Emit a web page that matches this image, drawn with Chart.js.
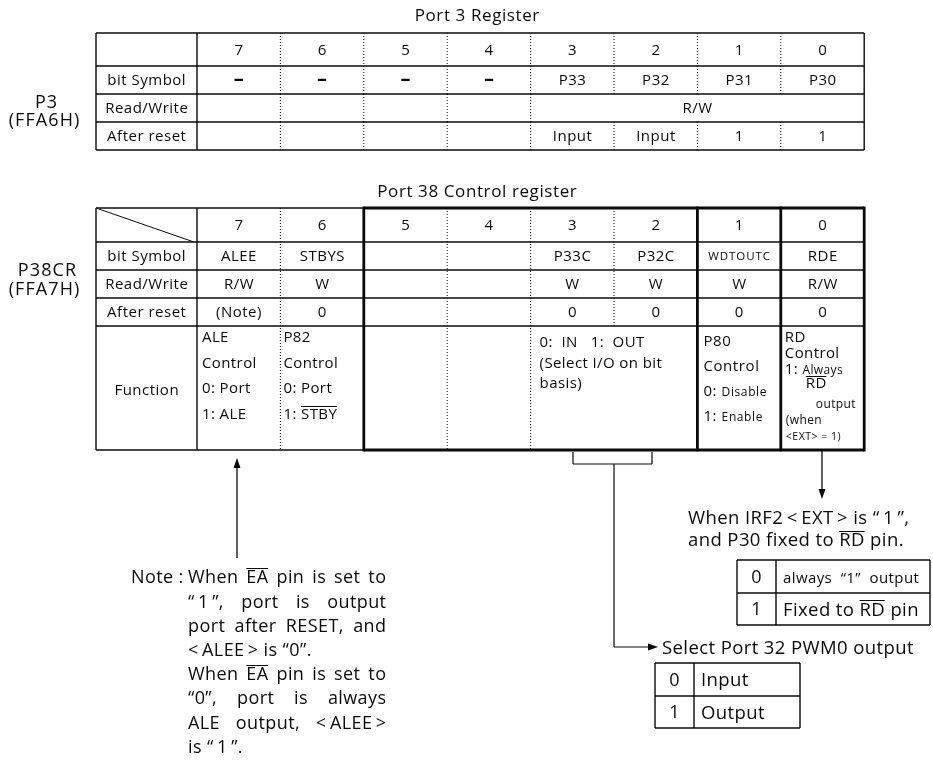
<!DOCTYPE html>
<html>
<head>
<meta charset="utf-8">
<script src="https://cdn.jsdelivr.net/npm/chart.js@4/dist/chart.umd.min.js"></script>
<style>
  html, body { margin: 0; padding: 0; background: #fff; }
  #wrap { width: 933px; height: 761px; }
</style>
</head>
<body>
<div id="wrap"><canvas id="regChart" width="933" height="761"></canvas></div>
<script>
// ===== REGISTER DATA =====
// ^..^ = overlined text, _.._ = small text
const bitLabels = ['7', '6', '5', '4', '3', '2', '1', '0'];
const rowLabels = ['bit Symbol', 'Read/Write', 'After reset'];

const p3Title = 'Port 3 Register';
const p3Name = ['P3', '(FFA6H)'];
const p3Symbols = ['–', '–', '–', '–', 'P33', 'P32', 'P31', 'P30'];
const p3ReadWrite = ['', '', '', '', 'R/W', '', '', ''];   // R/W spans bits 3..0
const p3Reset = ['', '', '', '', 'Input', 'Input', '1', '1'];

const p38Title = 'Port 38 Control register';
const p38Name = ['P38CR', '(FFA7H)'];
const p38Symbols = ['ALEE', 'STBYS', '', '', 'P33C', 'P32C', 'WDTOUTC', 'RDE'];
const p38ReadWrite = ['R/W', 'W', '', '', 'W', 'W', 'W', 'R/W'];
const p38Reset = ['(Note)', '0', '', '', '0', '0', '0', '0'];

const fnBit7 = ['ALE', 'Control', '0: Port', '1: ALE'];
const fnBit6 = ['P82', 'Control', '0: Port', '1: ^STBY^'];
const fnBit32 = ['0:  IN   1:  OUT', '(Select I/O on bit', 'basis)'];
const fnBit1 = ['P80', 'Control', '0: _Disable_', '1: _Enable_'];
const fnBit0 = ['RD', 'Control', '1: _Always_', '^RD^', '_output_', '_(when_', '_<EXT> = 1)_'];

const noteHead = 'Note :';
const noteLines = [
  'When ^EA^ pin is set to',
  '“\u20091\u2009”, port is output',
  'port after RESET, and',
  '<\u2009ALEE\u2009> is “0”.',
  'When ^EA^ pin is set to',
  '“0”, port is always',
  'ALE output, <\u2009ALEE\u2009>',
  'is “\u20091\u2009”.'
];
const noteJustify = [true, true, true, false, true, true, true, false];

const rdNote = ['When IRF2\u2009<\u2009EXT\u2009> is “\u20091\u2009”,', 'and P30 fixed to ^RD^ pin.'];
const rdTable = [['0', '_always  “1”  output_'], ['1', 'Fixed to ^RD^ pin']];
const pwmNote = 'Select Port 32 PWM0 output';
const pwmTable = [['0', 'Input'], ['1', 'Output']];

// ===== LAYOUT (diagram units, mapped through the chart scales) =====
const FONT = '"Open Sans", "Noto Sans", sans-serif';
const INK = '#0a0a0a';
const tableLeft = 96, labelRight = 197, colW = 83.4;
const p3Rows = [33, 66, 94, 122, 150];
const p38Rows = [208, 242, 270, 298, 326, 450];
const colEdge = i => labelRight + i * colW;

function parseRich(str) {
  const out = [];
  str.split(/(\^[^^]*\^|_[^_]*_)/).forEach(p => {
    if (!p) return;
    if (p[0] === '^') out.push({ t: p.slice(1, -1), over: true });
    else if (p[0] === '_') out.push({ t: p.slice(1, -1), small: true });
    else out.push({ t: p });
  });
  return out;
}

function fontOf(o, small) {
  return `${o.weight || 400} ${small ? o.small : o.size}px ${FONT}`;
}

function richWidth(ctx, str, o) {
  let w = 0;
  parseRich(str).forEach(s => {
    ctx.font = fontOf(o, s.small);
    for (const ch of s.t) w += ctx.measureText(ch).width + o.ls;
  });
  return w - o.ls;
}

function drawRich(ctx, str, x, y, opt) {
  const o = Object.assign({ size: 14, ls: 1, align: 'left' }, opt);
  if (!o.small) o.small = Math.round(o.size * 0.8);
  const total = richWidth(ctx, str, o);
  let cx = o.align === 'center' ? x - total / 2 : o.align === 'right' ? x - total : x;
  const base = y + o.size * 0.36;
  ctx.fillStyle = INK;
  ctx.textBaseline = 'alphabetic';
  ctx.textAlign = 'left';
  parseRich(str).forEach(s => {
    const sz = s.small ? o.small : o.size;
    ctx.font = fontOf(o, s.small);
    const x0 = cx;
    for (const ch of s.t) {
      ctx.fillText(ch, cx, base);
      cx += ctx.measureText(ch).width + o.ls;
    }
    if (s.over) {
      ctx.strokeStyle = INK; ctx.lineWidth = 1; ctx.setLineDash([]);
      const oy = Math.round(base - sz * 0.84) + 0.5;
      ctx.beginPath(); ctx.moveTo(x0, oy); ctx.lineTo(cx - o.ls, oy); ctx.stroke();
    }
  });
}

function drawJustified(ctx, str, x, y, width, opt) {
  const words = str.split(' ');
  const o = Object.assign({ ls: 1 }, opt);
  const ws = words.map(w => richWidth(ctx, w, o));
  const gap = (width - ws.reduce((a, b) => a + b, 0)) / (words.length - 1);
  let cx = x;
  words.forEach((w, i) => { drawRich(ctx, w, cx, y, o); cx += ws[i] + gap; });
}

const diagramPlugin = {
  id: 'registerDiagram',
  beforeDraw(chart) {
    const { ctx, width, height } = chart;
    ctx.save(); ctx.fillStyle = '#fff'; ctx.fillRect(0, 0, width, height); ctx.restore();
  },
  afterDraw(chart) {
    const { ctx, scales: { x, y } } = chart;
    const X = v => x.getPixelForValue(v);
    const Y = v => y.getPixelForValue(v);
    ctx.save();

    const line = (x1, y1, x2, y2, w, dotted) => {
      ctx.strokeStyle = INK; ctx.lineWidth = w;
      ctx.setLineDash(dotted ? [1, 2] : []);
      ctx.beginPath(); ctx.moveTo(X(x1), Y(y1)); ctx.lineTo(X(x2), Y(y2)); ctx.stroke();
      ctx.setLineDash([]);
    };
    const arrowHead = (tx, ty, dir) => {
      const L = 10, H = 3.5;
      ctx.fillStyle = INK; ctx.beginPath();
      if (dir === 'up') { ctx.moveTo(X(tx), Y(ty)); ctx.lineTo(X(tx - H), Y(ty + L)); ctx.lineTo(X(tx + H), Y(ty + L)); }
      if (dir === 'down') { ctx.moveTo(X(tx), Y(ty)); ctx.lineTo(X(tx - H), Y(ty - L)); ctx.lineTo(X(tx + H), Y(ty - L)); }
      if (dir === 'right') { ctx.moveTo(X(tx), Y(ty)); ctx.lineTo(X(tx - L), Y(ty - H)); ctx.lineTo(X(tx - L), Y(ty + H)); }
      ctx.closePath(); ctx.fill();
    };
    const T = (s, px, py, o) => drawRich(ctx, s, X(px), Y(py), o);
    const mid = (a, b) => (a + b) / 2;
    const cellX = i => mid(colEdge(i), colEdge(i + 1));
    const cell = { size: 15, ls: 0.5, align: 'center' };
    const dash = { size: 20, ls: 0, align: 'center', weight: 700 };

    // ===== PORT 3 REGISTER =====
    T(p3Title, 477, 15, { size: 17, ls: 0.6, align: 'center' });
    T(p3Name[0], 46, 102, { size: 18, ls: 1.1, align: 'center' });
    T(p3Name[1], 44, 120, { size: 18, ls: 1.1, align: 'center' });

    const right = colEdge(8);
    p3Rows.forEach(r => line(tableLeft, r, right, r, 1.4));
    line(tableLeft, p3Rows[0], tableLeft, p3Rows[4], 1.4);
    line(labelRight, p3Rows[0], labelRight, p3Rows[4], 1.4);
    line(right, p3Rows[0], right, p3Rows[4], 1.4);
    for (let i = 1; i < 8; i++) {
      [0, 1, 2, 3].forEach(r => {
        if (r === 2 && i > 4) return; // merged R/W cell
        line(colEdge(i), p3Rows[r], colEdge(i), p3Rows[r + 1], 1, true);
      });
    }
    [p3Symbols, p3ReadWrite, p3Reset].forEach((arr, r) => {
      const cy = mid(p3Rows[r + 1], p3Rows[r + 2]);
      T(rowLabels[r], mid(tableLeft, labelRight), cy, cell);
      arr.forEach((v, i) => {
        if (!v) return;
        const cx = (r === 1 && i === 4) ? mid(colEdge(4), colEdge(8)) : cellX(i);
        T(v, cx, v === '–' ? cy - 2 : cy, v === '–' ? dash : cell);
      });
    });
    bitLabels.forEach((b, i) => T(b, cellX(i), mid(p3Rows[0], p3Rows[1]), cell));

    // ===== PORT 38 CONTROL REGISTER =====
    T(p38Title, 477, 191, { size: 17, ls: 0.6, align: 'center' });
    T(p38Name[0], 47, 270, { size: 18, ls: 1.1, align: 'center' });
    T(p38Name[1], 44, 289, { size: 18, ls: 1.1, align: 'center' });

    const top = p38Rows[0], bot = p38Rows[5];
    p38Rows.slice(1, 5).forEach(r => line(tableLeft, r, right, r, 1.3));
    line(tableLeft, top, colEdge(2), top, 1.4);
    line(tableLeft, bot, colEdge(2), bot, 1.4);
    line(colEdge(2), top, right, top, 2.8);
    line(colEdge(2), bot, right, bot, 2.8);
    line(tableLeft, top, tableLeft, bot, 1.4);
    line(labelRight, top, labelRight, bot, 1.4);
    [2, 6, 7, 8].forEach(i => line(colEdge(i), top - 1.4, colEdge(i), bot + 1.4, 2.8));
    [1, 3, 4].forEach(i => line(colEdge(i), top, colEdge(i), bot, 1, true));
    line(colEdge(5), top, colEdge(5), p38Rows[4], 1, true);
    line(tableLeft, top, labelRight - 3, p38Rows[1], 1);   // header diagonal

    bitLabels.forEach((b, i) => T(b, cellX(i), mid(p38Rows[0], p38Rows[1]), cell));
    [p38Symbols, p38ReadWrite, p38Reset].forEach((arr, r) => {
      const cy = mid(p38Rows[r + 1], p38Rows[r + 2]);
      T(rowLabels[r], mid(tableLeft, labelRight), cy, cell);
      arr.forEach((v, i) => {
        if (!v) return;
        const o = v === 'WDTOUTC' ? { size: 11.5, ls: 0.9, align: 'center' } : cell;
        T(v, cellX(i), cy, o);
      });
    });
    T('Function', mid(tableLeft, labelRight), 390, cell);

    const fn = { size: 15, ls: 0.4 };
    const fnSmall = { size: 15, ls: 0.6, small: 12 };
    fnBit7.forEach((s, k) => T(s, colEdge(0) + 5, 337 + k * 25.5, fn));
    fnBit6.forEach((s, k) => T(s, colEdge(1) + 3, 337 + k * 25.5, fn));
    fnBit32.forEach((s, k) => T(s, colEdge(4) + 9, 342 + k * 20.5, fn));
    fnBit1.forEach((s, k) => T(s, colEdge(6) + 6, 341 + k * 24.7, fnSmall));
    const rdY = [337, 353, 368.5, 383, 403, 419, 435];
    const rdDx = [4, 4, 4, 25, 35, 5, 5];
    fnBit0.forEach((s, k) => T(s, colEdge(7) + rdDx[k], rdY[k],
      k === 6 ? { size: 15, ls: 0.5, small: 10.5 } : { size: 15, ls: 0.4, small: 12 }));

    // ===== NOTE (bit 7) =====
    const noteX = 237;
    line(noteX, 558, noteX, 468, 1.3);
    arrowHead(noteX, 458, 'up');
    const noteOpt = { size: 18, ls: 0.4 };
    T(noteHead, 131, 577, noteOpt);
    noteLines.forEach((s, k) => {
      const ly = 577 + k * 24.2;
      if (noteJustify[k]) drawJustified(ctx, s, X(188), Y(ly), X(386) - X(188), noteOpt);
      else T(s, 188, ly, noteOpt);
    });

    // ===== RD ARROW (bit 0) =====
    const rdX = 822;
    line(rdX, bot + 1, rdX, 489, 1.3);
    arrowHead(rdX, 499, 'down');
    const annOpt = { size: 18.5, ls: 0.4 };
    rdNote.forEach((s, k) => T(s, 688, 517 + k * 22.5, annOpt));
    const rt = { l: 737, m: 776, r: 930, rows: [560, 593, 625] };
    rt.rows.forEach(r => line(rt.l, r, rt.r, r, 1.4));
    [rt.l, rt.m, rt.r].forEach(c => line(c, rt.rows[0], c, rt.rows[2], 1.4));
    rdTable.forEach((row, k) => {
      const cy = mid(rt.rows[k], rt.rows[k + 1]);
      T(row[0], mid(rt.l, rt.m), cy, { size: 18, ls: 0, align: 'center' });
      T(row[1], rt.m + 7, cy, { size: 18.5, ls: 0.4, small: 15 });
    });

    // ===== PWM0 BRACKET (bits 3, 2) =====
    const bL = 573, bR = 652, bY = 464, stemX = 614, pwmY = 647;
    line(bL, bot + 2, bL, bY, 1.2);
    line(bR, bot + 2, bR, bY, 1.2);
    line(bL, bY, bR, bY, 1.2);
    line(stemX, bY, stemX, pwmY, 1.2);
    line(stemX, pwmY, 650, pwmY, 1.2);
    arrowHead(658, pwmY, 'right');
    T(pwmNote, 662, pwmY, annOpt);
    const pt = { l: 655, m: 694, r: 800, rows: [663, 696, 728] };
    pt.rows.forEach(r => line(pt.l, r, pt.r, r, 1.4));
    [pt.l, pt.m, pt.r].forEach(c => line(c, pt.rows[0], c, pt.rows[2], 1.4));
    pwmTable.forEach((row, k) => {
      const cy = mid(pt.rows[k], pt.rows[k + 1]);
      T(row[0], mid(pt.l, pt.m), cy, { size: 18, ls: 0, align: 'center' });
      T(row[1], pt.m + 7, cy, annOpt);
    });

    ctx.restore();
  }
};

new Chart(document.getElementById('regChart').getContext('2d'), {
  type: 'scatter',
  data: { datasets: [] },
  options: {
    responsive: false,
    animation: false,
    layout: { padding: 0 },
    events: [],
    plugins: { legend: { display: false }, tooltip: { enabled: false } },
    scales: {
      x: { type: 'linear', min: 0, max: 933, display: false },
      y: { type: 'linear', min: 0, max: 761, reverse: true, display: false }
    }
  },
  plugins: [diagramPlugin]
});
</script>
</body>
</html>
